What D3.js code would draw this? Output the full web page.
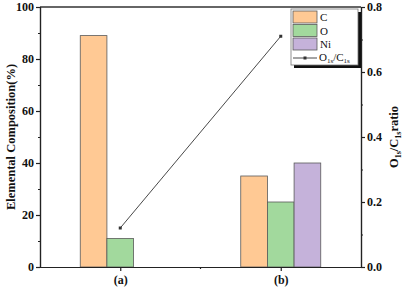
<!DOCTYPE html>
<html>
<head>
<meta charset="utf-8">
<script src="https://cdn.jsdelivr.net/npm/d3@7"></script>
<style>
  body { margin: 0; background: #fff; }
  text { font-family: "Liberation Serif", "Times New Roman", serif; font-weight: bold; fill: #111; }
  .axis path, .axis line { stroke: #222; stroke-width: 1.2; }
</style>
</head>
<body>
<div id="chart"></div>
<script>
// data
const categories = ["(a)", "(b)"];
const elements = ["C", "O", "Ni"];
const cValues = [89, 35];
const oValues = [11, 25];
const niValues = [0, 40];
const ratioValues = [0.12, 0.71];
const leftTicks = [0, 20, 40, 60, 80, 100];
const rightTicks = [0, 0.2, 0.4, 0.6, 0.8];

const width = 404, height = 292;
const margin = {top: 7, right: 43, bottom: 25, left: 40};

const svg = d3.select("#chart").append("svg")
  .attr("width", width)
  .attr("height", height);

const x = d3.scalePoint()
  .domain(categories)
  .range([margin.left, width - margin.right])
  .padding(0.5);

const xSub = d3.scaleBand()
  .domain(elements)
  .range([-40, 40]);

const y = d3.scaleLinear()
  .domain([0, 100])
  .range([height - margin.bottom, margin.top]);

const y2 = d3.scaleLinear()
  .domain([0, 0.8])
  .range([height - margin.bottom, margin.top]);

const color = d3.scaleOrdinal()
  .domain(elements)
  .range(["#ffc994", "#a2d99d", "#c5b2da"]);

// bars (zero values are not drawn)
const rows = categories.map((c, i) => ({
  cat: c,
  vals: [
    {key: "C", value: cValues[i]},
    {key: "O", value: oValues[i]},
    {key: "Ni", value: niValues[i]}
  ].filter(d => d.value > 0)
}));

svg.append("g")
  .selectAll("g")
  .data(rows)
  .join("g")
    .attr("transform", d => `translate(${x(d.cat)},0)`)
  .selectAll("rect")
  .data(d => d.vals)
  .join("rect")
    .attr("x", d => xSub(d.key))
    .attr("y", d => y(d.value))
    .attr("width", xSub.bandwidth())
    .attr("height", d => y(0) - y(d.value))
    .attr("fill", d => color(d.key))
    .attr("stroke", "#5a5a5a")
    .attr("stroke-width", 0.8);

// top frame line
svg.append("line")
  .attr("x1", margin.left).attr("x2", width - margin.right)
  .attr("y1", margin.top).attr("y2", margin.top)
  .attr("stroke", "#333").attr("stroke-width", 1.6);

// left axis
svg.append("g")
  .attr("class", "axis")
  .attr("transform", `translate(${margin.left},0)`)
  .call(d3.axisLeft(y).tickValues([10, 30, 50, 70, 90]).tickSize(2).tickFormat(""));
svg.append("g")
  .attr("class", "axis")
  .attr("transform", `translate(${margin.left},0)`)
  .call(d3.axisLeft(y).tickValues(leftTicks).tickSize(4).tickPadding(2).tickSizeOuter(0))
  .selectAll("text").style("font-size", "12px");

// right axis
svg.append("g")
  .attr("class", "axis")
  .attr("transform", `translate(${width - margin.right},0)`)
  .call(d3.axisRight(y2).tickValues([0.1, 0.3, 0.5, 0.7]).tickSize(2).tickFormat(""));
svg.append("g")
  .attr("class", "axis")
  .attr("transform", `translate(${width - margin.right},0)`)
  .call(d3.axisRight(y2).tickValues(rightTicks).tickSize(4).tickPadding(2).tickSizeOuter(0).tickFormat(d3.format(".1f")))
  .selectAll("text").style("font-size", "12px");

// bottom axis, with a minor tick between the groups
const mid = (x(categories[0]) + x(categories[1])) / 2;
svg.append("line")
  .attr("x1", mid).attr("x2", mid)
  .attr("y1", y(0)).attr("y2", y(0) + 2)
  .attr("stroke", "#222").attr("stroke-width", 1.2);
svg.append("g")
  .attr("class", "axis")
  .attr("transform", `translate(0,${height - margin.bottom})`)
  .call(d3.axisBottom(x).tickSize(4).tickPadding(4).tickSizeOuter(0))
  .selectAll("text").style("font-size", "12px");

// ratio line
const pts = categories.map((c, i) => [x(c), y2(ratioValues[i])]);
svg.append("path")
  .attr("d", d3.line()(pts))
  .attr("fill", "none")
  .attr("stroke", "#333")
  .attr("stroke-width", 0.9);
svg.selectAll(".mk")
  .data(pts)
  .join("rect")
    .attr("class", "mk")
    .attr("x", d => d[0] - 1.5)
    .attr("y", d => d[1] - 1.5)
    .attr("width", 3).attr("height", 3)
    .attr("fill", "#333");

// axis titles
svg.append("text")
  .attr("transform", `translate(15,${(margin.top + height - margin.bottom) / 2}) rotate(-90)`)
  .attr("text-anchor", "middle")
  .style("font-size", "12.5px")
  .text("Elemental Composition(%)");

const rl = svg.append("text")
  .attr("transform", `translate(398,${(margin.top + height - margin.bottom) / 2}) rotate(-90)`)
  .attr("text-anchor", "middle")
  .style("font-size", "12.5px");
rl.append("tspan").text("O");
rl.append("tspan").attr("dy", 3).style("font-size", "8px").text("1s");
rl.append("tspan").attr("dy", -3).text("/C");
rl.append("tspan").attr("dy", 3).style("font-size", "8px").text("1s");
rl.append("tspan").attr("dy", -3).text("ratio");

// legend with offset shadow
const lg = svg.append("g").attr("transform", "translate(291,9)");
lg.append("rect").attr("x", 3).attr("y", 3).attr("width", 67).attr("height", 56).attr("fill", "#111");
lg.append("rect").attr("x", 0).attr("y", 0).attr("width", 67).attr("height", 56)
  .attr("fill", "#fff").attr("stroke", "#777").attr("stroke-width", 0.8);
elements.forEach((k, i) => {
  lg.append("rect")
    .attr("x", 2).attr("y", 2 + i * 13.5)
    .attr("width", 24).attr("height", 12)
    .attr("fill", color(k)).attr("stroke", "#5a5a5a").attr("stroke-width", 0.8);
  lg.append("text")
    .attr("x", 29).attr("y", 12 + i * 13.5)
    .style("font-size", "11px").style("font-weight", "normal")
    .text(k);
});
lg.append("line").attr("x1", 2).attr("x2", 26).attr("y1", 49).attr("y2", 49)
  .attr("stroke", "#333").attr("stroke-width", 0.9);
lg.append("rect").attr("x", 12.5).attr("y", 47.5).attr("width", 3).attr("height", 3).attr("fill", "#333");
const lt = lg.append("text").attr("x", 28).attr("y", 52)
  .style("font-size", "11px").style("font-weight", "normal");
lt.append("tspan").text("O");
lt.append("tspan").attr("dy", 2).style("font-size", "7px").text("1s");
lt.append("tspan").attr("dy", -2).text("/C");
lt.append("tspan").attr("dy", 2).style("font-size", "7px").text("1s");
</script>
</body>
</html>
